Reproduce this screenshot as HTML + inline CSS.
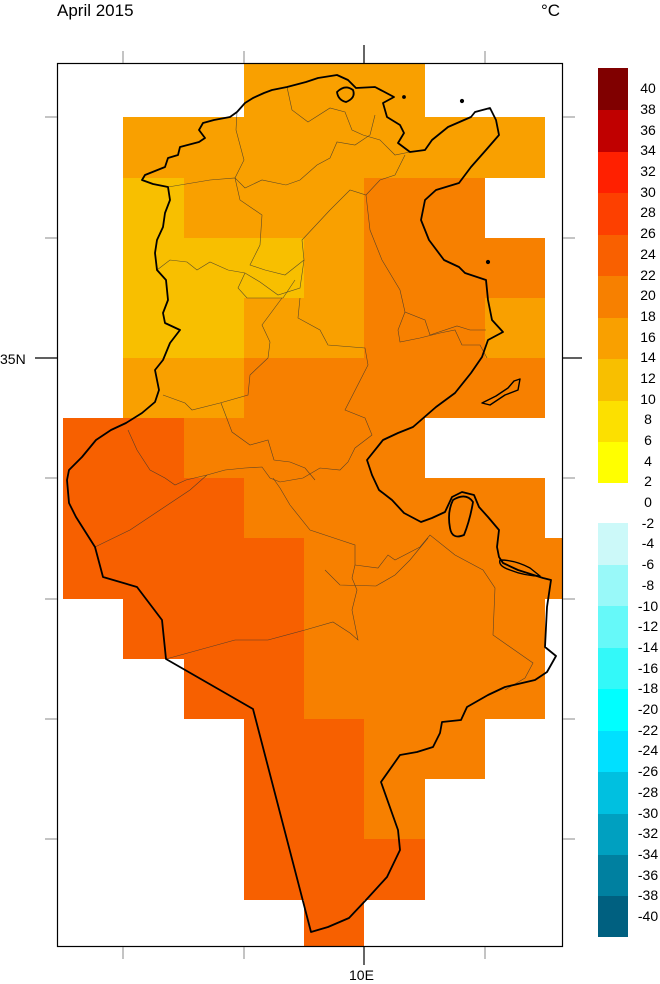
<!DOCTYPE html>
<html><head><style>
body{margin:0;background:#fff;}
svg{display:block;font-family:"Liberation Sans",sans-serif;}
</style></head><body>
<svg width="660" height="984" viewBox="0 0 660 984">
<text x="57" y="16" font-size="17">April 2015</text>
<text x="541" y="16" font-size="17">°C</text>
<g shape-rendering="crispEdges">
<rect x="244" y="63" width="181" height="54" fill="#F9A000"/>
<rect x="123" y="117" width="422" height="61" fill="#F9A000"/>
<rect x="123" y="178" width="61" height="60" fill="#F8BF00"/>
<rect x="184" y="178" width="180" height="60" fill="#F9A000"/>
<rect x="364" y="178" width="121" height="60" fill="#F78000"/>
<rect x="123" y="238" width="181" height="60" fill="#F8BF00"/>
<rect x="304" y="238" width="60" height="60" fill="#F9A000"/>
<rect x="364" y="238" width="181" height="60" fill="#F78000"/>
<rect x="123" y="298" width="121" height="60" fill="#F8BF00"/>
<rect x="244" y="298" width="120" height="60" fill="#F9A000"/>
<rect x="364" y="298" width="121" height="60" fill="#F78000"/>
<rect x="485" y="298" width="60" height="60" fill="#F9A000"/>
<rect x="123" y="358" width="121" height="60" fill="#F9A000"/>
<rect x="244" y="358" width="301" height="60" fill="#F78000"/>
<rect x="63" y="418" width="121" height="60" fill="#F76000"/>
<rect x="184" y="418" width="241" height="60" fill="#F78000"/>
<rect x="63" y="478" width="181" height="60" fill="#F76000"/>
<rect x="244" y="478" width="301" height="60" fill="#F78000"/>
<rect x="63" y="538" width="241" height="61" fill="#F76000"/>
<rect x="304" y="538" width="258" height="61" fill="#F78000"/>
<rect x="123" y="599" width="181" height="60" fill="#F76000"/>
<rect x="304" y="599" width="241" height="60" fill="#F78000"/>
<rect x="184" y="659" width="120" height="60" fill="#F76000"/>
<rect x="304" y="659" width="241" height="60" fill="#F78000"/>
<rect x="244" y="719" width="120" height="120" fill="#F76000"/>
<rect x="364" y="719" width="121" height="60" fill="#F78000"/>
<rect x="364" y="779" width="61" height="60" fill="#F78000"/>
<rect x="244" y="839" width="181" height="61" fill="#F76000"/>
<rect x="304" y="900" width="60" height="47" fill="#F76000"/>
</g>
<g fill="none" stroke="#333" stroke-width="0.6" opacity="0.8">
<polyline points="237,112 236,130 244,160 235,178 245,188 262,180 286,185 300,180 317,165 330,158 337,142 355,145 370,135 375,115"/>
<polyline points="287,87 292,110 308,122 330,108 345,112 352,130 363,135 380,140 395,155 410,152"/>
<polyline points="168,187 210,180 235,178 240,200 262,215 260,245 250,265 265,270 285,275 304,260 302,240 330,210 350,190 366,195 380,180 395,175 405,155"/>
<polyline points="157,270 170,260 187,262 197,270 210,262 228,270 245,273 260,282 278,295 300,288 304,260"/>
<polyline points="245,273 238,288 247,298 283,298 295,280"/>
<polyline points="366,195 370,230 382,260 400,290 405,312 425,320 430,335 457,326 470,330 486,330"/>
<polyline points="282,298 262,325 270,342 268,358 250,375 248,395 220,403 192,410 185,403 163,395"/>
<polyline points="300,298 298,318 320,330 328,345 365,348 368,365 345,410 365,418 372,435 355,448 348,462 340,470 320,468 303,478 280,482 270,478 262,467 245,468 225,470 207,475 186,480 175,485 165,478 150,470 137,450 128,430"/>
<polyline points="405,312 398,330 400,342 420,338 440,333 455,330 462,345 480,345 487,358"/>
<polyline points="221,403 232,432 250,445 268,440 274,460 290,462 305,468 315,480"/>
<polyline points="207,475 190,490 160,510 130,530 95,547"/>
<polyline points="166,659 235,640 268,640 305,630 333,622 350,633 358,640 352,610 357,590 352,578 355,565 355,545 334,538 310,530 290,505 280,488 273,478"/>
<polyline points="355,565 378,568 388,555 395,560 420,547 430,535 455,555 483,570 495,588 493,635 533,663 525,678 505,690"/>
<polyline points="428,538 410,560 395,575 376,586 340,585 325,570"/>
</g>
<g fill="none" stroke="#000" stroke-width="1.8" stroke-linejoin="round">
<polyline points="237,112 230,117 214,120 203,123 199,130 205,138 199,142 180,147 178,155 168,158 165,167 145,175 142,180 153,184 168,187 170,200 165,213 163,227 157,240 155,253 157,270 166,280 168,300 163,313 165,323 180,330 170,343 163,360 155,370 159,390 155,402 142,413 126,423 111,430 96,440 82,457 69,470 67,480 69,503 76,517 95,547 103,577 137,587 162,620 166,659 253,709 311,932 328,927 349,918 366,900 387,877 400,850 398,830 381,782 400,755 417,752 433,747 440,733 442,722 461,720 467,707 488,695 505,687 535,680 547,672 556,656 545,647 547,607 551,580 543,578 518,570 503,563 499,557 497,547 499,530 488,517 479,507 474,495 462,492 452,497 445,512 432,518 421,522 404,513 392,500 379,490 372,475 367,460 383,440 398,433 413,427 436,407 455,393 471,373 482,357 488,340 503,332 492,320 488,300 486,280 465,273 459,267 444,260 429,240 421,220 425,200 436,190 459,183 471,167 486,150 499,135 496,120 490,108 475,112 471,117 448,127 432,140 425,150 410,152 398,143 404,133 400,125 387,117 383,103 394,97 375,87 356,88 348,80 337,75 318,78 306,82 287,87 272,90 264,93 253,98 245,103 237,112"/>
<path d="M337,92 Q345,84 353,90 Q356,98 346,102 Q338,100 337,92Z"/>
<path d="M453,500 Q466,492 473,502 Q470,520 464,535 Q452,540 450,528 Q447,512 453,500Z"/>
<path d="M482,403 L496,396 L508,388 L514,381 L520,379 L518,390 L505,395 L490,405 Z" stroke-width="1.4"/>
<path d="M500,560 Q515,560 530,568 L540,576 Q525,576 510,570 Q498,566 500,560Z" stroke-width="1.4"/>
<circle cx="462" cy="101" r="1.2" fill="#000"/>
<circle cx="404" cy="97" r="1" fill="#000"/>
<circle cx="488" cy="262" r="1.2" fill="#000"/>
</g>
<rect x="57.5" y="63.5" width="505" height="883" fill="none" stroke="#000" stroke-width="1.2"/>
<g stroke="#888" stroke-width="1">
<line x1="123" y1="63" x2="123" y2="51"/><line x1="244" y1="63" x2="244" y2="51"/><line x1="485" y1="63" x2="485" y2="51"/>
<line x1="123" y1="947" x2="123" y2="959"/><line x1="244" y1="947" x2="244" y2="959"/><line x1="485" y1="947" x2="485" y2="959"/>
<line x1="57" y1="117" x2="45" y2="117"/><line x1="57" y1="238" x2="45" y2="238"/><line x1="57" y1="478" x2="45" y2="478"/><line x1="57" y1="599" x2="45" y2="599"/><line x1="57" y1="719" x2="45" y2="719"/><line x1="57" y1="839" x2="45" y2="839"/>
<line x1="563" y1="117" x2="575" y2="117"/><line x1="563" y1="238" x2="575" y2="238"/><line x1="563" y1="478" x2="575" y2="478"/><line x1="563" y1="599" x2="575" y2="599"/><line x1="563" y1="719" x2="575" y2="719"/><line x1="563" y1="839" x2="575" y2="839"/>
</g>
<g stroke="#000" stroke-width="1.2">
<line x1="364" y1="63" x2="364" y2="45"/><line x1="364" y1="947" x2="364" y2="965"/>
<line x1="57" y1="358" x2="35" y2="358"/><line x1="563" y1="358" x2="582" y2="358"/>
</g>
<text x="0" y="364" font-size="14">35N</text>
<text x="349" y="980" font-size="14">10E</text>
<g shape-rendering="crispEdges">
<rect x="598" y="68" width="30" height="42" fill="#800000"/>
<rect x="598" y="110" width="30" height="42" fill="#C00000"/>
<rect x="598" y="152" width="30" height="41" fill="#FF2000"/>
<rect x="598" y="193" width="30" height="42" fill="#FD4000"/>
<rect x="598" y="235" width="30" height="41" fill="#F96000"/>
<rect x="598" y="276" width="30" height="42" fill="#F78000"/>
<rect x="598" y="318" width="30" height="41" fill="#F9A000"/>
<rect x="598" y="359" width="30" height="42" fill="#F8BF00"/>
<rect x="598" y="401" width="30" height="41" fill="#FCE000"/>
<rect x="598" y="442" width="30" height="41" fill="#FFFF00"/>
<rect x="598" y="523" width="30" height="42" fill="#CCF9F9"/>
<rect x="598" y="565" width="30" height="41" fill="#99F9F9"/>
<rect x="598" y="606" width="30" height="42" fill="#66F9F9"/>
<rect x="598" y="648" width="30" height="41" fill="#33F9F9"/>
<rect x="598" y="689" width="30" height="42" fill="#00FFFF"/>
<rect x="598" y="731" width="30" height="41" fill="#00E0FF"/>
<rect x="598" y="772" width="30" height="42" fill="#00C0E0"/>
<rect x="598" y="814" width="30" height="41" fill="#00A0C0"/>
<rect x="598" y="855" width="30" height="41" fill="#0080A0"/>
<rect x="598" y="896" width="30" height="41" fill="#006080"/>
</g>
<g font-size="14" text-anchor="middle">
<text x="648" y="93">40</text><text x="648" y="114">38</text><text x="648" y="135">36</text><text x="648" y="155">34</text><text x="648" y="176">32</text><text x="648" y="197">30</text><text x="648" y="217">28</text><text x="648" y="238">26</text><text x="648" y="259">24</text><text x="648" y="280">22</text><text x="648" y="300">20</text><text x="648" y="321">18</text><text x="648" y="342">16</text><text x="648" y="362">14</text><text x="648" y="383">12</text><text x="648" y="404">10</text><text x="648" y="424">8</text><text x="648" y="445">6</text><text x="648" y="466">4</text><text x="648" y="486">2</text><text x="648" y="507">0</text>
<text x="648" y="528">-2</text><text x="648" y="548">-4</text><text x="648" y="569">-6</text><text x="648" y="590">-8</text><text x="648" y="611">-10</text><text x="648" y="631">-12</text><text x="648" y="652">-14</text><text x="648" y="673">-16</text><text x="648" y="693">-18</text><text x="648" y="714">-20</text><text x="648" y="735">-22</text><text x="648" y="755">-24</text><text x="648" y="776">-26</text><text x="648" y="797">-28</text><text x="648" y="818">-30</text><text x="648" y="838">-32</text><text x="648" y="859">-34</text><text x="648" y="880">-36</text><text x="648" y="900">-38</text><text x="648" y="921">-40</text>
</g>
</svg>
</body></html>
